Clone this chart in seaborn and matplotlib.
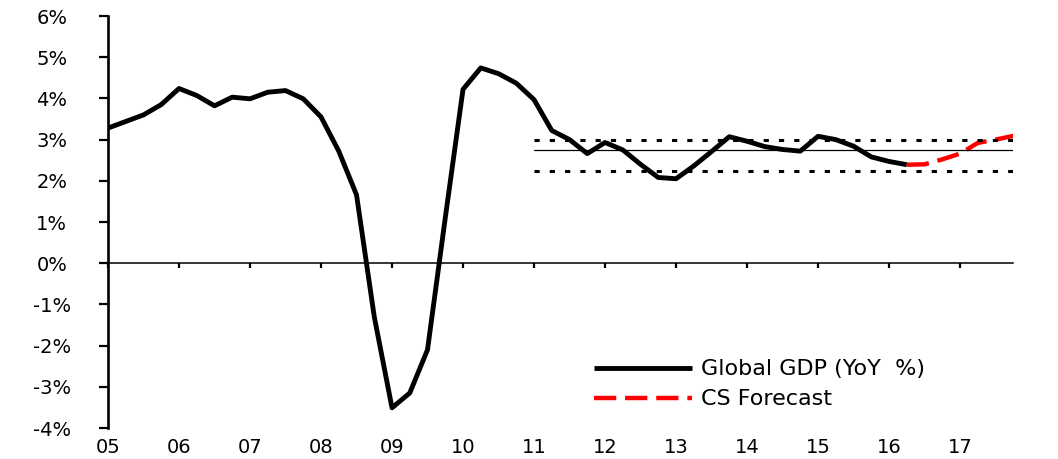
import numpy as np
import pandas as pd
import matplotlib
matplotlib.use("Agg")
import matplotlib.pyplot as plt
import seaborn as sns
from matplotlib.ticker import FuncFormatter

# ---- data (quarterly) ----
gdp_start = 2005.0
gdp_values = [3.28, 3.44, 3.60, 3.85,
              4.24, 4.07, 3.82, 4.03,
              3.99, 4.15, 4.19, 3.99,
              3.55, 2.72, 1.66, -1.30,
              -3.51, -3.15, -2.10, 1.10,
              4.22, 4.74, 4.60, 4.37,
              3.97, 3.22, 3.00, 2.66,
              2.93, 2.75, 2.40, 2.08,
              2.05, 2.36, 2.71, 3.07,
              2.96, 2.83, 2.76, 2.72,
              3.08, 3.00, 2.84, 2.58,
              2.47, 2.39]
fc_start = 2016.25
fc_values = [2.39, 2.40, 2.52, 2.66, 2.92, 3.00, 3.09]
band_start = 2011.0
band_end = 2017.75
band_mean = 2.75
band_upper = 3.0
band_lower = 2.25
year_ticks = list(range(2005, 2018))
year_labels = [f"{y % 100:02d}" for y in year_ticks]
gdp_label = "Global GDP (YoY  %)"
fc_label = "CS Forecast"

gdp_x = gdp_start + 0.25 * np.arange(len(gdp_values))
fc_x = fc_start + 0.25 * np.arange(len(fc_values))
df_gdp = pd.DataFrame({"x": gdp_x, "y": gdp_values})
df_fc = pd.DataFrame({"x": fc_x, "y": fc_values})

sns.set_style("white")
plt.rcParams["font.family"] = ["DejaVu Sans"]
plt.rcParams["text.color"] = "black"
plt.rcParams["xtick.color"] = "black"
plt.rcParams["ytick.color"] = "black"
plt.rcParams["xtick.labelcolor"] = "black"
plt.rcParams["ytick.labelcolor"] = "black"

fig = plt.figure(figsize=(10.58, 4.59), dpi=100)
ax = fig.add_axes([108 / 1058, 1 - 428 / 459, (1013.3 - 108) / 1058, 412 / 459])

sns.lineplot(data=df_gdp, x="x", y="y", ax=ax, color="black", lw=3.5,
             label=gdp_label, solid_joinstyle="round", solid_capstyle="butt")
sns.lineplot(data=df_fc, x="x", y="y", ax=ax, color="#ff0000", lw=3.2,
             label=fc_label, dashes=(5, 2))

ax.plot([band_start, band_end], [band_mean, band_mean], color="black", lw=0.9)
for v in (band_upper, band_lower):
    ax.plot([band_start, band_end], [v, v], color="black", lw=2.2,
            linestyle=(0, (1.7, 3.3)), dash_capstyle="butt")

ax.set_xlim(2005.0, 2017.75)
ax.set_ylim(-4, 6)
ax.set_xlabel("")
ax.set_ylabel("")

# spines
for s in ("top", "right"):
    ax.spines[s].set_visible(False)
ax.spines["left"].set_linewidth(1.9)
ax.spines["left"].set_color("black")
ax.spines["bottom"].set_position(("data", 0))
ax.spines["bottom"].set_linewidth(1.1)
ax.spines["bottom"].set_color("black")

ax.set_yticks(np.arange(-4, 7, 1))
ax.yaxis.set_major_formatter(FuncFormatter(lambda v, p: f"{int(round(v))}%"))
ax.tick_params(axis="y", direction="out", length=6.5, width=1.6, color="black",
               labelsize=14, pad=34, left=True, labelcolor="black")
for t in ax.get_yticklabels():
    t.set_horizontalalignment("center")

ax.set_xticks(year_ticks)
ax.tick_params(axis="x", direction="out", length=3.5, width=1.6, color="black",
               labelbottom=False, bottom=True)

sec = ax.secondary_xaxis("bottom")
sec.set_xticks(year_ticks)
sec.set_xticklabels(year_labels)
sec.tick_params(axis="x", length=0, labelsize=14, pad=7, labelcolor="black")
sec.spines["bottom"].set_visible(False)

leg = ax.legend(loc="center left", bbox_to_anchor=(0.525, 0.106), frameon=False,
                fontsize=16, handlelength=4.4, handletextpad=0.4,
                labelspacing=0.45, borderpad=0, labelcolor="black")

fig.savefig("out.png", dpi=100, facecolor="white")
